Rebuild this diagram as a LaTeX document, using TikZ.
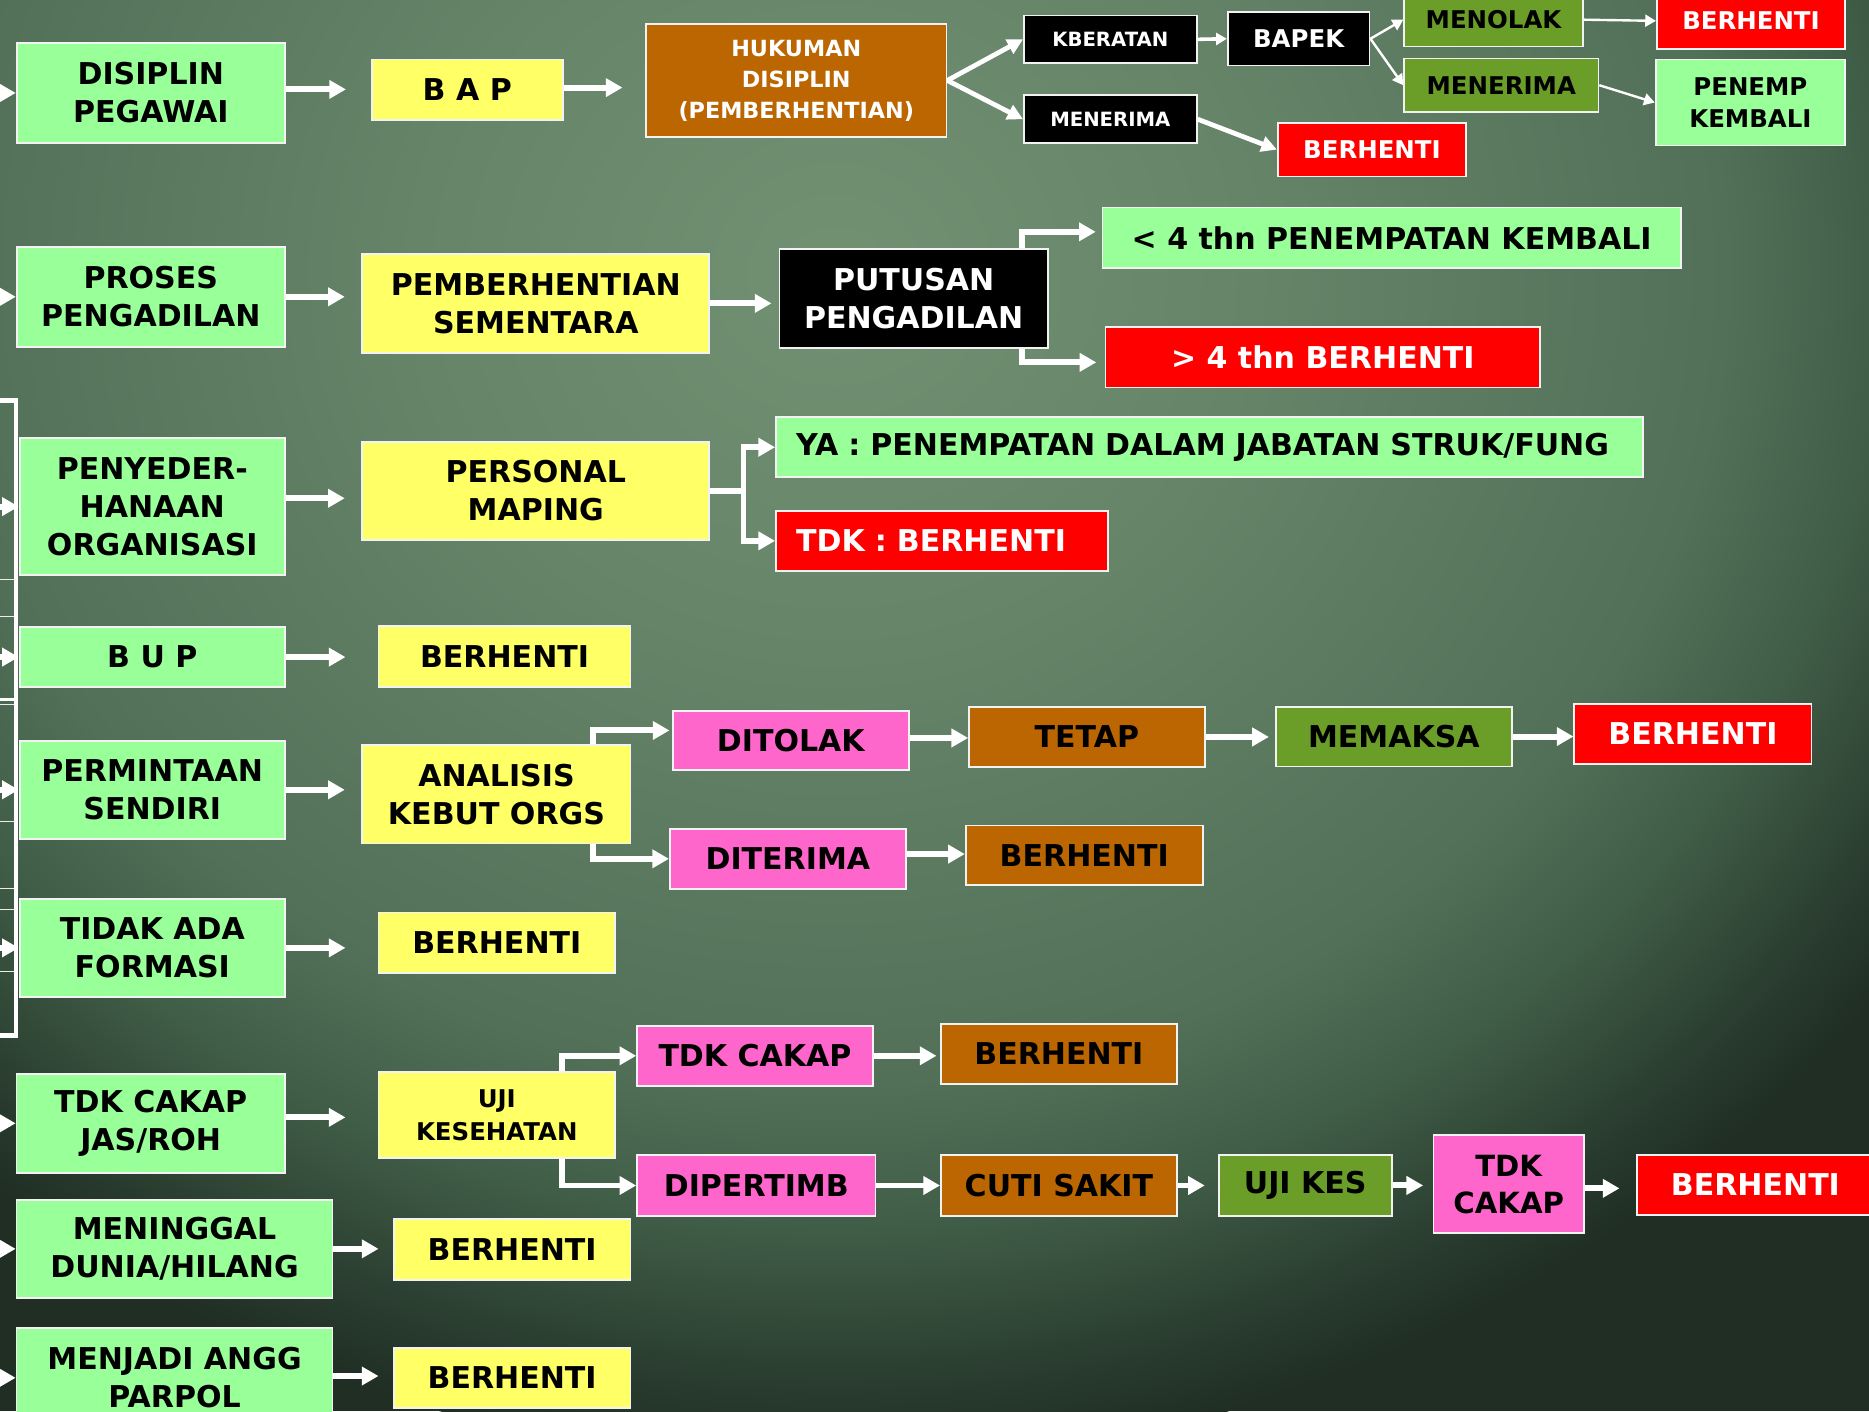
\documentclass[tikz,border=0pt]{standalone}
\usepackage{fontspec}
\setmainfont{DejaVu Sans}
\usetikzlibrary{arrows.meta}
\definecolor{lgreen}{HTML}{99FF99}
\definecolor{yell}{HTML}{FFFF66}
\definecolor{brn}{HTML}{BB6600}
\definecolor{olv}{HTML}{6B9E28}
\definecolor{pnk}{HTML}{FF66CC}
\definecolor{redd}{HTML}{FF0000}
\definecolor{bord}{HTML}{F2F2F2}
\definecolor{bga}{RGB}{114,144,114}
\definecolor{bgb}{RGB}{102,132,104}
\definecolor{bgc}{RGB}{82,112,88}
\definecolor{bgd}{RGB}{64,93,71}
\definecolor{bge}{RGB}{40,58,45}
\definecolor{bgf}{RGB}{32,46,36}
\pgfdeclareradialshading{bgshade}{\pgfpoint{0bp}{0bp}}{color(0bp)=(bga); color(8bp)=(bgb); color(17bp)=(bgc); color(20bp)=(bgd); color(23.5bp)=(bge); color(25bp)=(bgf); color(50bp)=(bgf)}
\newcommand\fsz[2]{\bfseries\fontsize{#1}{#2}\selectfont}
\newcommand\bx[7]{\node[#6,minimum width={(#4)-(#2)},minimum height={(#5)-(#3)}] (#1) at ({((#2)+(#4))/2},{((#3)+(#5))/2}) {#7};}
\tikzset{
 bxs/.style={draw=bord,line width=1.5pt,inner sep=0pt,align=center,font=\fsz{25.2}{32}},
 lg/.style={bxs,fill=lgreen,text=black},
 yl/.style={bxs,fill=yell,text=black},
 bn/.style={bxs,fill=brn,text=black},
 bk/.style={bxs,fill=black,text=white},
 rd/.style={bxs,fill=redd,text=white},
 ol/.style={bxs,fill=olv,text=black},
 pk/.style={bxs,fill=pnk,text=black},
 arr/.style={draw=white,line width=5pt,-{Triangle[length=14pt,width=15pt]}},
 arrm/.style={draw=white,line width=4pt,-{Triangle[length=13pt,width=13pt]}},
 arrs/.style={draw=white,line width=2pt,-{Triangle[length=9pt,width=10pt]}},
 lin/.style={draw=white,line width=5pt},
}
\begin{document}
\begin{tikzpicture}[x=1pt,y=-1pt]
\useasboundingbox (0,0) rectangle (1568,1184);
\clip (0,0) rectangle (1568,1184);
\fill[bgf] (0,0) rectangle (1568,1184);
\shade[shading=bgshade] (700,230) ellipse [x radius=1100pt, y radius=1000pt];
% left bracket
\draw[white,line width=4pt] (-5,336) -- (13.5,336) -- (13.5,869) -- (-5,869);
\draw[white,line width=3pt] (0,587) -- (13.5,587);
\foreach \yy in {486,517,591,689,745,763,815} \draw[white!85!gray,line width=0.8pt] (0,\yy) -- (12,\yy);
% row 1
\bx{dis}{14}{36}{239}{120}{lg}{DISIPLIN\\PEGAWAI}
\bx{bap}{312}{50}{472}{101}{yl}{B A P}
\bx{huk}{542}{20}{794}{115}{bxs,fill=brn,text=white,font=\fsz{18.7}{26}}{HUKUMAN\\DISIPLIN\\(PEMBERHENTIAN)}
\bx{kb}{859}{13}{1004}{53}{bk,font=\fsz{16.5}{20}}{KBERATAN}
\bx{bapek}{1030}{10}{1149}{55}{bk,font=\fsz{20.5}{26}}{BAPEK}
\bx{menolak}{1178}{-6}{1328}{39}{ol,font=\fsz{20.5}{26}}{MENOLAK}
\bx{men2}{1178}{49}{1341}{94}{ol,font=\fsz{20.5}{26}}{MENERIMA}
\bx{bh1}{1390}{-6}{1548}{41}{rd,font=\fsz{20.5}{26}}{BERHENTI}
\bx{penemp}{1389}{50}{1548}{122}{lg,font=\fsz{20.5}{27}}{PENEMP\\KEMBALI}
\bx{men}{859}{80}{1004}{120}{bk,font=\fsz{16.5}{20}}{MENERIMA}
\bx{bh2}{1072}{103}{1230}{148}{rd,font=\fsz{20.5}{26}}{BERHENTI}
% row 2
\bx{proses}{14}{207}{239}{291}{lg}{PROSES\\PENGADILAN}
\bx{pbs}{304}{213}{595}{296}{yl}{PEMBERHENTIAN\\SEMENTARA}
\bx{put}{654}{209}{879}{292}{bk}{PUTUSAN\\PENGADILAN}
\bx{lt4}{925}{174}{1410}{225}{lg}{< 4 thn PENEMPATAN KEMBALI}
\bx{gt4}{927.5}{274}{1292}{325}{rd}{> 4 thn BERHENTI}
% row 3
\bx{pen}{16.5}{367.5}{239}{482.5}{lg}{PENYEDER-\\HANAAN\\ORGANISASI}
\bx{pm}{304}{370.5}{595}{453}{yl}{PERSONAL\\MAPING}
\bx{ya}{651}{350}{1378.6}{400.4}{lg,align=left,inner xsep=17pt,text width=693.6pt}{\mbox{YA : PENEMPATAN DALAM JABATAN STRUK/FUNG}}
\bx{tdk}{651}{428.7}{929.5}{478.8}{rd,align=left,inner xsep=17pt,text width=244.5pt}{\mbox{TDK : BERHENTI}}
\bx{bup}{16.5}{526}{239}{576.5}{lg}{B U P}
\bx{bhbup}{317.6}{525}{529}{576.5}{yl}{BERHENTI}
\bx{perm}{16.5}{621.4}{239}{703.8}{lg}{PERMINTAAN\\SENDIRI}
\bx{ana}{304}{625}{529}{707.6}{yl}{ANALISIS\\KEBUT ORGS}
\bx{ditolak}{564.4}{596.2}{762.6}{646}{pk}{DITOLAK}
\bx{tetap}{813}{592.8}{1010.6}{643.7}{bn}{TETAP}
\bx{memaksa}{1070.3}{592.8}{1268.5}{643}{ol}{MEMAKSA}
\bx{bh3}{1320.8}{590.6}{1519.8}{641}{rd}{BERHENTI}
\bx{diterima}{562}{695.2}{760}{745.8}{pk}{DITERIMA}
\bx{bh4}{810.2}{692.5}{1009}{742.5}{bn}{BERHENTI}
\bx{tidak}{16.5}{754}{239}{836.4}{lg}{TIDAK ADA\\FORMASI}
\bx{bh5}{317.6}{765.6}{516}{816}{yl}{BERHENTI}
\bx{tdkc}{13.9}{901}{239}{983.8}{lg}{TDK CAKAP\\JAS/ROH}
\bx{uji}{317.6}{899.6}{516}{971.7}{yl,font=\fsz{20.5}{27}}{UJI\\KESEHATAN}
\bx{tdkc2}{534.5}{860.5}{732.3}{911}{pk}{TDK CAKAP}
\bx{bh6}{789.4}{859}{987.3}{909.4}{bn}{BERHENTI}
\bx{dip}{534.5}{969.2}{734.5}{1019.9}{pk}{DIPERTIMB}
\bx{cuti}{789.4}{969.2}{987.3}{1019.9}{bn}{CUTI SAKIT}
\bx{ujikes}{1022.5}{969}{1167.5}{1020}{ol}{UJI KES}
\bx{tdkc3}{1202.7}{952.2}{1328.7}{1034.7}{pk,font=\fsz{24.5}{31}}{TDK\\CAKAP}
\bx{bh7}{1373.4}{968.7}{1572}{1019.4}{rd}{BERHENTI}
\bx{mening}{13.9}{1006.7}{279}{1088.7}{lg}{MENINGGAL\\DUNIA/HILANG}
\bx{bh8}{330.3}{1022.9}{529}{1074.1}{yl}{BERHENTI}
\bx{menj}{13.9}{1113.8}{279}{1198}{lg}{MENJADI ANGG\\PARPOL}
\bx{bh9}{330.3}{1130.6}{529}{1181.5}{yl}{BERHENTI}
% left entry arrows
\foreach \n in {dis,proses,pen,bup,perm,tidak,tdkc,mening,menj}
  \draw[arr] ([xshift=-25pt]\n.west) -- (\n.west);
% row 1 connectors
\draw[arr,shorten >=21pt] ([yshift=3pt]dis.east) -- ([yshift=3pt]dis.east -| bap.west);
\draw[arr,shorten >=19pt] ([yshift=2pt]bap.east) -- ([yshift=2pt]bap.east -| huk.west);
\draw[arrm] (huk.east) -- (kb.west);
\draw[arrm] (huk.east) -- (men.west);
\draw[arrs,line width=3pt] (kb.east) -- (bapek.west);
\draw[arrs] (bapek.east) -- (menolak.west);
\draw[arrs] (bapek.east) -- (men2.west);
\draw[arrs] (menolak.east) -- (bh1.west);
\draw[arrs] (men2.east) -- (penemp.west);
\draw[arrm] (men.east) -- (bh2.west);
% row 2
\draw[arr,shorten >=14pt] (proses.east) -- (proses.east -| pbs.west);
\draw[arr,shorten >=6pt] (pbs.east) -- (pbs.east -| put.west);
\draw[arr,shorten >=5pt] ([xshift=-22pt]put.north east) |- ([yshift=5pt]lt4.west);
\draw[arr,shorten >=7pt] ([xshift=-22pt]put.south east) |- ([yshift=-4.5pt]gt4.west);
% row 3
\draw[arr,shorten >=14pt] ([yshift=7pt]pen.east) -- ([yshift=7pt]pen.east -| pm.west);
\draw[lin] (pm.east) -- ++(28,0) coordinate (pmj);
\draw[arr] (pmj) |- (ya.west);
\draw[arr] (pmj) |- (tdk.west);
\draw[arr,shorten >=27pt] (bup.east) -- (bup.east -| bhbup.west);
\draw[arr,shorten >=14pt] (perm.east) -- (perm.east -| ana.west);
\draw[arr,shorten >=2pt] ([xshift=-32pt]ana.north east) |- ([yshift=8.3pt]ditolak.west);
\draw[arr] ([xshift=-32pt]ana.south east) |- (diterima.west);
\draw[arr] ([yshift=2pt]ditolak.east) -- ([yshift=2pt]ditolak.east -| tetap.west);
\draw[arr,shorten >=5pt] (tetap.east) -- (tetap.east -| memaksa.west);
\draw[arr] (memaksa.east) -- (memaksa.east -| bh3.west);
\draw[arr] ([yshift=4pt]diterima.east) -- ([yshift=4pt]diterima.east -| bh4.west);
\draw[arr,shorten >=27pt] (tidak.east) -- (tidak.east -| bh5.west);
\draw[arr,shorten >=27pt] ([yshift=5pt]tdkc.east) -- ([yshift=5pt]tdkc.east -| uji.west);
\draw[arr] ([xshift=-45pt]uji.north east) |- (tdkc2.west);
\draw[arr] ([xshift=-45pt]uji.south east) |- (dip.west);
\draw[arr,shorten >=3pt] (tdkc2.east) -- (tdkc2.east -| bh6.west);
\draw[arr] (dip.east) -- (dip.east -| cuti.west);
\draw[arr,shorten >=11pt] (cuti.east) -- (cuti.east -| ujikes.west);
\draw[arr,shorten >=8pt] (ujikes.east) -- (ujikes.east -| tdkc3.west);
\draw[arr,shorten >=14pt] ([yshift=-3.5pt]tdkc3.east) -- ([yshift=-3.5pt]tdkc3.east -| bh7.west);
\draw[arr,shorten >=12pt] (mening.east) -- (mening.east -| bh8.west);
\draw[arr,shorten >=12pt] ([yshift=1.5pt]menj.east) -- ([yshift=1.5pt]menj.east -| bh9.west);
\end{tikzpicture}
\end{document}
